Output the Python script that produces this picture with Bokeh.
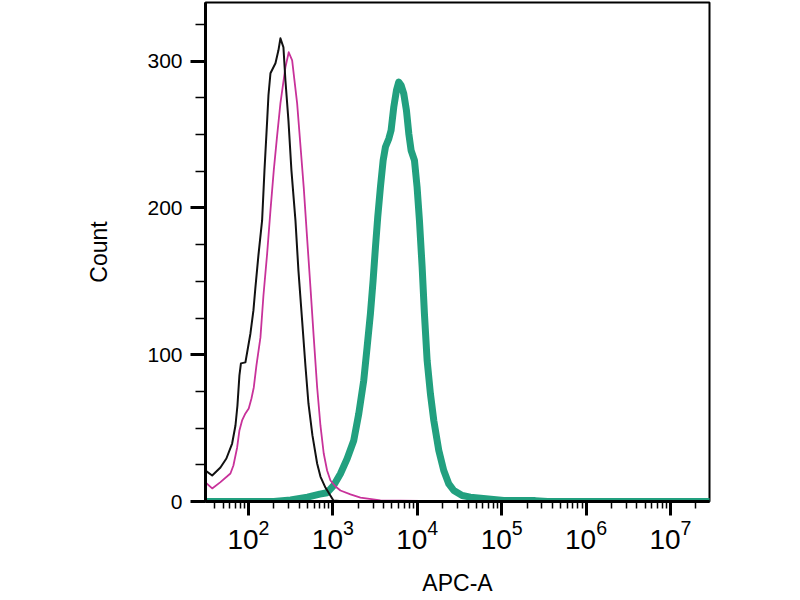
from bokeh.plotting import figure
from bokeh.models import Range1d, FixedTicker, SingleIntervalTicker
from bokeh.embed import file_html
from bokeh.resources import INLINE

# Unstained control (black)
black_x = [31, 37.2, 46.6, 54.8, 64.1, 70.2, 74.1, 78.2, 81.5, 92.1, 105.6,
           114.6, 121.0, 131.3, 145.2, 154.9, 166.7, 172.7, 182.4, 209.0,
           226.7, 239.3, 259.8, 274.2, 297.8, 323.1, 360.6, 391.0, 432.5,
           473.2, 514.0, 573.2, 651.6, 713, 817, 1016, 1300, 2000]
black_y = [21, 17.7, 23.2, 29.3, 39.5, 51.8, 65.4, 85.9, 94.1, 94.8, 114.5,
           130.2, 145.9, 167.7, 191.5, 225.6, 259.7, 276.8, 291.8, 298.6,
           307.4, 315.6, 309.5, 287.0, 259.7, 225.6, 191.5, 157.5, 123.4,
           92.7, 66.8, 45.0, 25.9, 17.0, 9.5, 0.7, 0.2, 0]

# Isotype control (magenta)
mag_x = [31, 37.2, 46.6, 61.2, 66.4, 73.5, 78.2, 84.1, 92.1, 100.8, 108.6,
         115.7, 124.4, 138.8, 150.6, 166.7, 182.4, 199.6, 218.9, 239.3, 274.2,
         300.2, 329.6, 351, 377.6, 413, 452, 495, 543, 594, 652, 713, 780, 855,
         937, 1074, 1230, 1618, 2125, 3664, 10960, 20000]
mag_y = [13, 8.9, 13.2, 19.1, 24.5, 36.8, 48.4, 55.2, 60.0, 63.4, 70.2, 77.7,
         92.7, 111.8, 140.4, 169.1, 198.4, 225.6, 249.5, 271.3, 295.8, 306.1,
         300.6, 287, 271.3, 242.7, 214, 180, 145.9, 111.8, 77.7, 51.8, 32.7,
         21.1, 14.3, 10.2, 7.5, 4.8, 2.7, 0.7, 0.4, 0]

# Stained sample (teal)
teal_x = [31, 200, 316, 500, 700, 855, 1026, 1230, 1476, 1770, 2028, 2323,
          2547, 2786, 2999, 3199, 3404, 3664, 3945, 4198, 4603, 4898, 5272,
          5675, 6039, 6442, 6918, 7447, 7943, 8453, 9268, 9954, 10617, 11429,
          12162, 13092, 14322, 15704, 17989, 20606, 23659, 27102, 34041, 42658,
          105925, 250000, 350000, 29000000]
teal_y = [0, 0, 1, 3, 5, 6, 11, 18.9, 29.1, 41.6, 59.8, 82.5, 105.2, 127.9,
          150.6, 173.4, 193.8, 214.3, 232.4, 241.5, 247.2, 252.9, 268.8, 280.2,
          285.8, 283.6, 277.9, 266.5, 250.6, 239.3, 232.4, 214.3, 191.5, 159.7,
          127.9, 96.1, 73.4, 55.2, 34.8, 21.1, 12.0, 7.5, 4.1, 2.95, 0.7, 0.6,
          0, 0]

x_major = [1e2, 1e3, 1e4, 1e5, 1e6, 1e7]
x_minor = [m * 10 ** e for e in range(1, 8) for m in range(2, 10)]

p = figure(width=800, height=600, x_axis_type="log",
           x_range=Range1d(31, 2.9e7), y_range=Range1d(0, 340),
           output_backend="svg", toolbar_location=None,
           min_border_left=205, min_border_right=91,
           min_border_top=2, min_border_bottom=99)
p.title.visible = False
p.grid.visible = False
p.background_fill_color = "white"
p.border_fill_color = "white"
p.outline_line_color = "black"
p.outline_line_width = 2
p.outline_line_alpha = 1

p.line(teal_x, teal_y, line_color="#22a07f", line_width=7, line_join="round", line_cap="round")
p.line(mag_x, mag_y, line_color="#c8329a", line_width=1.8, line_join="round")
p.line(black_x, black_y, line_color="#111111", line_width=2, line_join="round")

# X axis
xa = p.xaxis[0]
xa.ticker = FixedTicker(ticks=x_major, minor_ticks=x_minor)
xa.axis_line_width = 3
xa.major_tick_line_width = 3
xa.major_tick_out = 14
xa.major_tick_in = 0
xa.minor_tick_line_width = 1.5
xa.minor_tick_out = 7
xa.minor_tick_in = 0
xa.major_label_text_font = "Liberation Sans"
xa.major_label_text_font_size = "28px"
xa.major_label_text_color = "black"
xa.major_label_standoff = 4
xa.axis_label = "APC-A"
xa.axis_label_text_font = "Liberation Sans"
xa.axis_label_text_font_size = "23px"
xa.axis_label_text_font_style = "normal"
xa.axis_label_text_color = "black"
xa.axis_label_standoff = 18

# Y axis
ya = p.yaxis[0]
ya.ticker = SingleIntervalTicker(interval=100, num_minor_ticks=4)
ya.axis_line_width = 3
ya.major_tick_line_width = 3
ya.major_tick_out = 15
ya.major_tick_in = 0
ya.minor_tick_line_width = 1.5
ya.minor_tick_out = 10
ya.minor_tick_in = 0
ya.major_label_text_font = "Liberation Sans"
ya.major_label_text_font_size = "21px"
ya.major_label_text_color = "black"
ya.major_label_standoff = 8
ya.axis_label = "Count"
ya.axis_label_text_font = "Liberation Sans"
ya.axis_label_text_font_size = "23px"
ya.axis_label_text_font_style = "normal"
ya.axis_label_text_color = "black"
ya.axis_label_standoff = 32

open("out.html", "w").write(file_html(p, INLINE))
